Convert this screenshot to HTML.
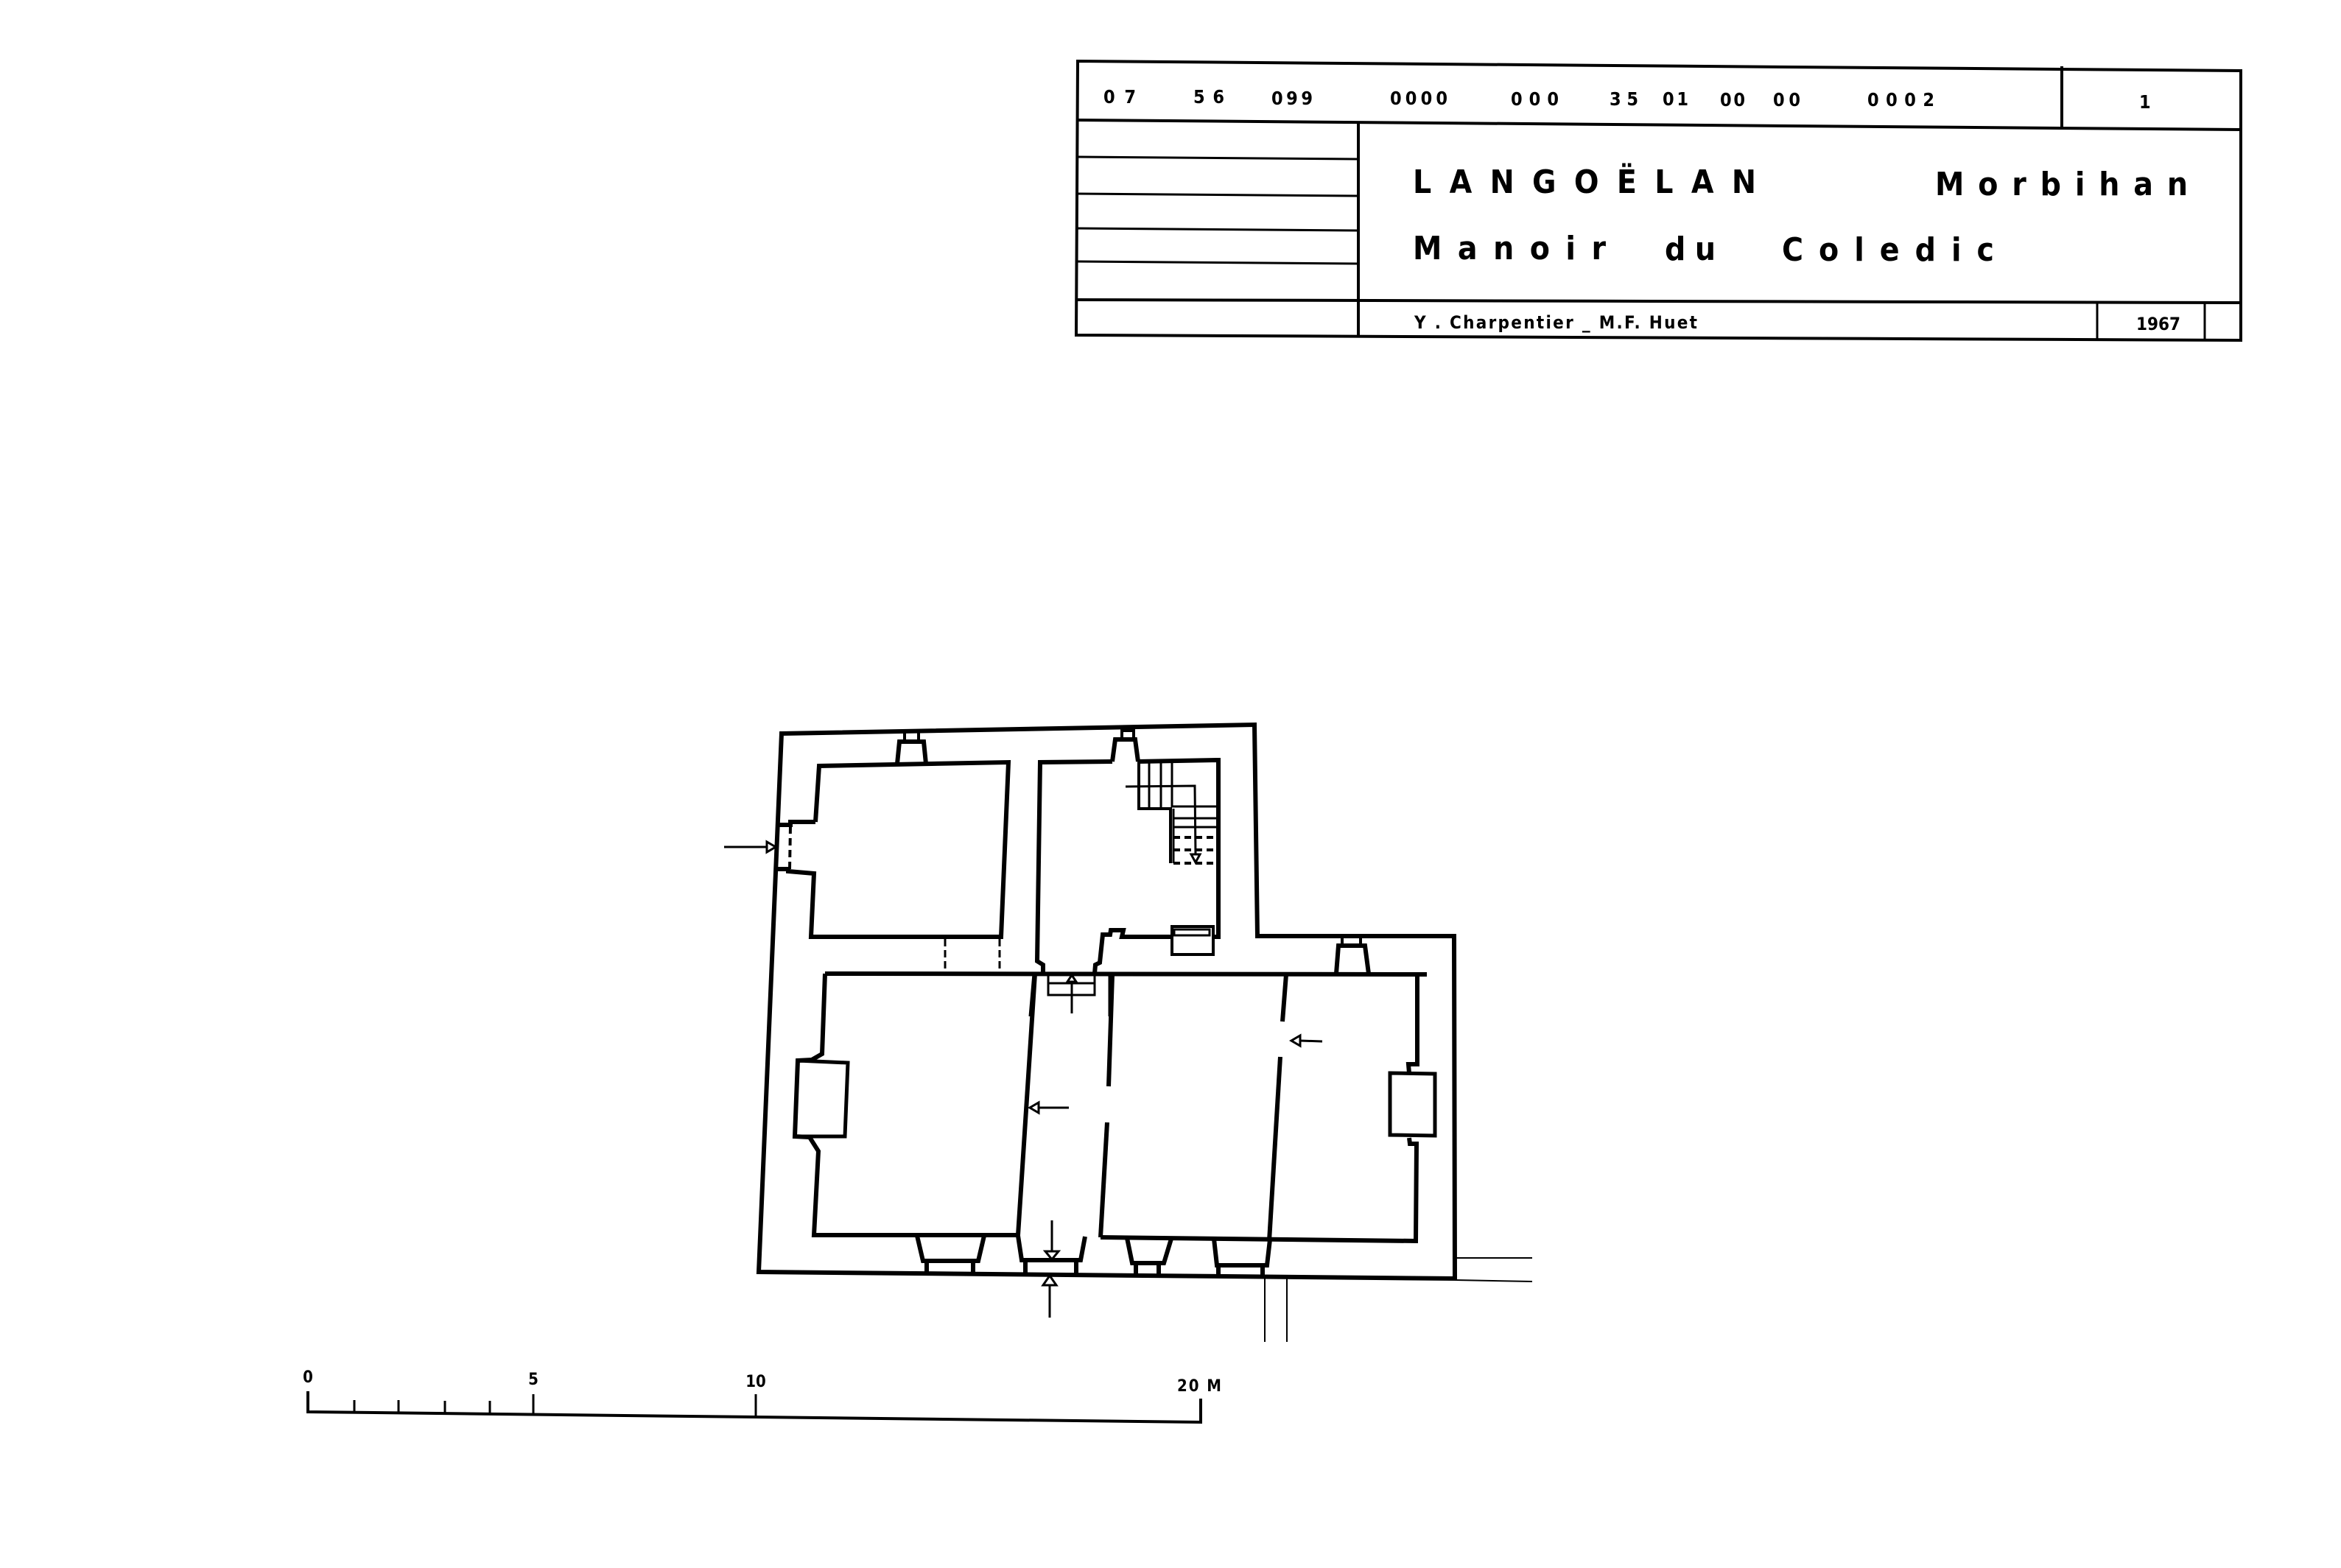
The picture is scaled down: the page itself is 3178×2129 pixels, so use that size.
<!DOCTYPE html>
<html><head><meta charset="utf-8"><style>
html,body{margin:0;padding:0;background:#fff;}
svg{display:block;}
text{font-family:"DejaVu Sans Condensed","Liberation Sans Narrow","Liberation Sans",sans-serif;font-weight:bold;fill:#000;}
</style></head><body>
<svg width="3178" height="2129" viewBox="0 0 3178 2129" xmlns="http://www.w3.org/2000/svg">
<rect width="3178" height="2129" fill="#fff"/>
<!-- Title block -->
<g stroke="#000" fill="none" stroke-width="4">
<polygon points="1463,83 3042,96 3042,462 1461,455"/>
<line x1="1463" y1="163" x2="3042" y2="176"/>
<line x1="2799" y1="90" x2="2799" y2="175"/>
<line x1="1844" y1="166" x2="1844" y2="458"/>
<line x1="1463" y1="213" x2="1844" y2="216" stroke-width="3"/>
<line x1="1463" y1="263" x2="1844" y2="266" stroke-width="3"/>
<line x1="1463" y1="310" x2="1844" y2="313" stroke-width="3"/>
<line x1="1463" y1="355" x2="1844" y2="358" stroke-width="3"/>
<line x1="1461" y1="407" x2="3042" y2="411"/>
<line x1="2847" y1="410" x2="2847" y2="460" stroke-width="3"/>
<line x1="2993" y1="411" x2="2993" y2="461" stroke-width="3"/>
</g>
<g font-size="25">
<text x="1498" y="140" textLength="44" lengthAdjust="spacing">0 7</text>
<text x="1620" y="140" textLength="42" lengthAdjust="spacing">5 6</text>
<text x="1726" y="142" textLength="56" lengthAdjust="spacing">099</text>
<text x="1887" y="142" textLength="78" lengthAdjust="spacing">0000</text>
<text x="2051" y="143" textLength="65" lengthAdjust="spacing">000</text>
<text x="2185" y="143" textLength="39" lengthAdjust="spacing">35</text>
<text x="2257" y="143" textLength="35" lengthAdjust="spacing">01</text>
<text x="2335" y="144" textLength="34" lengthAdjust="spacing">00</text>
<text x="2407" y="144" textLength="37" lengthAdjust="spacing">00</text>
<text x="2535" y="144" textLength="91" lengthAdjust="spacing">0002</text>
<text x="2904" y="147">1</text>
</g>
<g font-size="44">
<text x="1918" y="262" textLength="466" lengthAdjust="spacing">LANGOËLAN</text>
<text x="2627" y="265" textLength="343" lengthAdjust="spacing">Morbihan</text>
<text x="1918" y="352" textLength="262" lengthAdjust="spacing">Manoir</text>
<text x="2260" y="353" textLength="69" lengthAdjust="spacing">du</text>
<text x="2419" y="354" textLength="288" lengthAdjust="spacing">Coledic</text>
</g>
<g font-size="24">
<text x="1920" y="446" textLength="384" lengthAdjust="spacing">Y . Charpentier _ M.F. Huet</text>
<text x="2900" y="448" textLength="60" lengthAdjust="spacing">1967</text>
</g>

<!-- Plan -->
<g stroke="#000" fill="none" stroke-width="6" stroke-linejoin="miter">
<polygon points="1061,996 1703,984 1707,1271 1974,1271 1975,1736 1030,1727"/>
<polyline points="1107,1116 1112,1040 1369,1035 1359,1272 1101,1272 1105,1186 1070,1183 1070,1180 1055,1180"/>
<polyline points="1107,1116 1073,1116 1073,1120 1055,1120"/>
<polyline points="1218,1037 1221,1007 1254,1007 1257,1037"/>
<polyline points="1228,1007 1228,993 1247,993 1247,1007" stroke-width="4"/>
<polyline points="1416,1322 1416,1310 1408,1305 1412,1035 1510,1034"/>
<polyline points="1545,1034 1654,1032 1654,1272 1647,1272"/>
<polyline points="1591,1272 1523,1272 1525,1263 1508,1263 1507,1269 1497,1269 1493,1307 1487,1310 1486,1322"/>
<polyline points="1510,1034 1514,1004 1541,1004 1545,1034"/>
<polyline points="1523,1004 1523,992 1539,992 1539,1004" stroke-width="4"/>
<rect x="1591" y="1258" width="56" height="38" stroke-width="4"/>
<rect x="1594" y="1262" width="48" height="8" stroke-width="3"/>
<line x1="1120" y1="1322" x2="1937" y2="1323"/>
<polyline points="1120,1322 1116,1431 1102,1439 1083,1440 1079,1543 1099,1544 1111,1563 1105,1677 1382,1677 1405,1322"/>
<polygon points="1083,1440 1151,1443 1147,1543 1079,1543" stroke-width="5"/>
<line x1="1510" y1="1324" x2="1505" y2="1475"/>
<line x1="1503" y1="1524" x2="1494" y2="1680"/>
<line x1="1746" y1="1323" x2="1741" y2="1387"/>
<line x1="1738" y1="1435" x2="1723" y2="1685"/>
<polyline points="1937,1323 1924,1323 1924,1445 1912,1445 1913,1457"/>
<polyline points="1913,1545 1914,1553 1923,1553 1922,1685 1494,1680"/>
<polygon points="1887,1457 1948,1458 1948,1542 1887,1541" stroke-width="5"/>
<polyline points="1814,1322 1817,1284 1853,1284 1858,1322"/>
<polyline points="1822,1284 1822,1272 1847,1272 1847,1284" stroke-width="4"/>
<polyline points="1245,1678 1253,1712 1328,1712 1336,1678"/>
<line x1="1258" y1="1712" x2="1258" y2="1729"/><line x1="1321" y1="1712" x2="1321" y2="1729"/>
<polyline points="1382,1678 1387,1711 1467,1711 1473,1679"/>
<line x1="1392" y1="1711" x2="1392" y2="1729"/><line x1="1461" y1="1711" x2="1461" y2="1729"/>
<polyline points="1530,1681 1537,1715 1580,1715 1590,1682"/>
<line x1="1542" y1="1715" x2="1542" y2="1731"/><line x1="1573" y1="1715" x2="1573" y2="1731"/>
<polyline points="1648,1682 1652,1718 1720,1718 1724,1683"/>
<line x1="1654" y1="1718" x2="1654" y2="1733"/><line x1="1714" y1="1718" x2="1714" y2="1733"/>
</g>
<g stroke="#000" fill="none" stroke-width="3">
<line x1="1403" y1="1322" x2="1398" y2="1380"/>
<line x1="1506" y1="1322" x2="1506" y2="1380"/>
<line x1="1073" y1="1122" x2="1072" y2="1180" stroke-dasharray="10,6" stroke-width="4"/>
<line x1="1283" y1="1275" x2="1283" y2="1320" stroke-dasharray="10,5"/>
<line x1="1357" y1="1275" x2="1357" y2="1320" stroke-dasharray="10,5"/>
<line x1="1560" y1="1035" x2="1560" y2="1096"/>
<line x1="1576" y1="1035" x2="1576" y2="1096"/>
<line x1="1591" y1="1035" x2="1591" y2="1096"/>
<polyline points="1546,1034 1546,1098 1589,1098 1589,1172" stroke-width="4"/>
<line x1="1593" y1="1098" x2="1593" y2="1172"/>
<line x1="1591" y1="1095" x2="1652" y2="1095"/>
<line x1="1593" y1="1111" x2="1652" y2="1111"/>
<line x1="1593" y1="1123" x2="1652" y2="1123"/>
<g stroke-dasharray="9,6" stroke-width="4">
<line x1="1593" y1="1137" x2="1652" y2="1137"/>
<line x1="1593" y1="1154" x2="1652" y2="1154"/>
<line x1="1593" y1="1172" x2="1652" y2="1172"/>
</g>
<polyline points="1528,1068 1622,1067 1623,1160"/>
<polygon points="1617,1160 1629,1160 1623,1171" fill="#fff"/>
<rect x="1423" y="1322" width="63" height="29"/>
<line x1="1423" y1="1335" x2="1486" y2="1335"/>
<line x1="1455" y1="1376" x2="1455" y2="1333"/>
<polygon points="1449,1333 1461,1333 1455,1324" fill="#fff"/>
<line x1="983" y1="1150" x2="1042" y2="1150"/>
<polygon points="1041,1143 1041,1157 1053,1150" fill="#fff"/>
<line x1="1451" y1="1504" x2="1410" y2="1504"/>
<polygon points="1410,1497 1410,1511 1398,1504" fill="#fff"/>
<line x1="1795" y1="1414" x2="1765" y2="1413"/>
<polygon points="1765,1406 1765,1420 1753,1413" fill="#fff"/>
<line x1="1428" y1="1657" x2="1428" y2="1699"/>
<polygon points="1419,1699 1437,1699 1428,1710" fill="#fff"/>
<line x1="1425" y1="1789" x2="1425" y2="1745"/>
<polygon points="1416,1745 1434,1745 1425,1732" fill="#fff"/>
<line x1="1976" y1="1708" x2="2080" y2="1708" stroke-width="2"/>
<line x1="1976" y1="1738" x2="2080" y2="1740" stroke-width="2"/>
<line x1="1717" y1="1734" x2="1717" y2="1822" stroke-width="2"/>
<line x1="1747" y1="1734" x2="1747" y2="1822" stroke-width="2"/>
</g>

<!-- Scale bar -->
<g stroke="#000" fill="none" stroke-width="3">
<polyline points="418,1889 418,1917 1630,1931 1630,1899" stroke-width="4"/>
<line x1="481" y1="1901" x2="481" y2="1918"/>
<line x1="541" y1="1901" x2="541" y2="1918"/>
<line x1="604" y1="1902" x2="604" y2="1919"/>
<line x1="665" y1="1902" x2="665" y2="1920"/>
<line x1="724" y1="1893" x2="724" y2="1920"/>
<line x1="1026" y1="1893" x2="1026" y2="1924"/>
</g>
<g font-size="22">
<text x="418" y="1877" text-anchor="middle">0</text>
<text x="724" y="1880" text-anchor="middle">5</text>
<text x="1026" y="1883" text-anchor="middle">10</text>
<text x="1598" y="1889" textLength="60" lengthAdjust="spacing">20 M</text>
</g>
</svg>
</body></html>
